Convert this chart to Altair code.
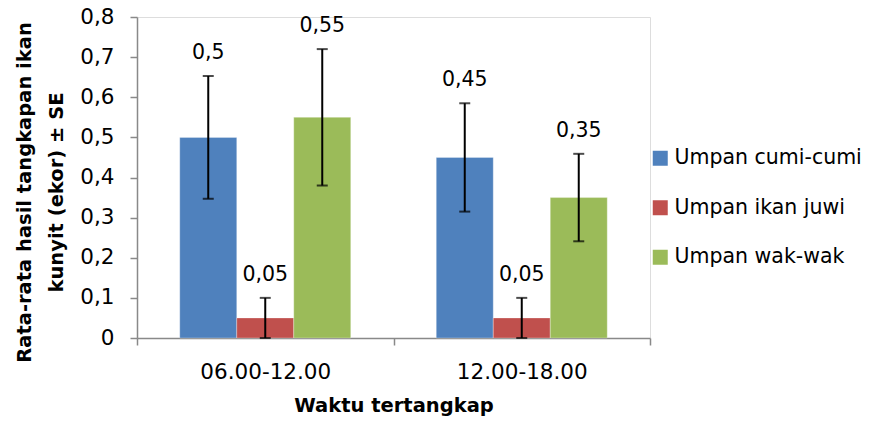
import altair as alt
import pandas as pd

periods = ["06.00-12.00", "12.00-18.00"]
baits = ["Umpan cumi-cumi", "Umpan ikan juwi", "Umpan wak-wak"]
mean_0612 = [0.5, 0.05, 0.55]
mean_1218 = [0.45, 0.05, 0.35]
se_0612 = [0.153, 0.05, 0.17]
se_1218 = [0.135, 0.05, 0.109]
colors = ["#4F81BD", "#C0504D", "#9BBB59"]
y_ticks = [0, 0.1, 0.2, 0.3, 0.4, 0.5, 0.6, 0.7, 0.8]

rows = []
for period, means, ses in [(periods[0], mean_0612, se_0612), (periods[1], mean_1218, se_1218)]:
    for bait, m, s in zip(baits, means, ses):
        rows.append({
            "period": period, "bait": bait, "mean": m,
            "lo": max(m - s, 0), "hi": m + s,
            "label": str(m).replace(".", ","),
        })
df = pd.DataFrame(rows)

FONT = "DejaVu Sans"
GRAY = "#898989"

x_enc = alt.X("period:N", sort=periods,
              scale=alt.Scale(paddingInner=0, paddingOuter=0),
              axis=alt.Axis(tickBand="extent", tickSize=7, labelAngle=0, labelPadding=16,
                            labelFontSize=21.5, labelColor="black", labelFont=FONT,
                            domainColor=GRAY, tickColor=GRAY, domainWidth=1.5, tickWidth=1.5,
                            title="Waktu tertangkap", titleFont=FONT, titleFontSize=19.5,
                            titleFontWeight="bold", titleColor="black",
                            titleX=256.5, titleY=73, titleBaseline="alphabetic", titleAlign="center"))
xo_enc = alt.XOffset("bait:N", sort=baits, scale=alt.Scale(paddingInner=0, paddingOuter=0.75))

base = alt.Chart(df).encode(x=x_enc, xOffset=xo_enc)

y_scale = alt.Scale(domain=[0, 0.8], nice=False)

bars = base.mark_bar(stroke="white", strokeWidth=0.6, strokeOpacity=0.5).encode(
    y=alt.Y("mean:Q", scale=y_scale,
            axis=alt.Axis(values=y_ticks, grid=False, tickSize=7, labelPadding=16,
                          labelExpr="datum.value == 0 ? '0' : replace(format(datum.value, '.1f'), '.', ',')",
                          labelFontSize=21.5, labelFont=FONT, labelColor="black",
                          domainColor=GRAY, tickColor=GRAY, domainWidth=1.5, tickWidth=1.5,
                          title=["Rata-rata hasil tangkapan ikan", "kunyit (ekor) ± SE"],
                          titleFont=FONT, titleFontSize=19.5, titleFontWeight="bold",
                          titleColor="black", titleAngle=270, titleX=-122, titleY=175,
                          titleAlign="center", titleBaseline="top", titleLineHeight=32)),
    color=alt.Color("bait:N", sort=baits,
                    scale=alt.Scale(domain=baits, range=colors),
                    legend=alt.Legend(title=None, orient="none", legendX=513, legendY=131,
                                      symbolType="square", symbolSize=225, symbolStrokeWidth=0,
                                      labelFontSize=20.5, labelFont=FONT, labelColor="black",
                                      labelLimit=0, rowPadding=28.5, labelOffset=4)),
)

rules = base.mark_rule(color="black", strokeWidth=2).encode(
    y=alt.Y("lo:Q", scale=y_scale), y2="hi:Q")
caps_hi = base.mark_tick(color="black", thickness=2, size=11).encode(y=alt.Y("hi:Q", scale=y_scale))
caps_lo = base.mark_tick(color="black", thickness=2, size=11).encode(y=alt.Y("lo:Q", scale=y_scale))
labels = base.mark_text(dy=-23, fontSize=20.5, font=FONT, color="black", baseline="middle").encode(
    y=alt.Y("hi:Q", scale=y_scale), text="label:N")

chart = alt.layer(bars, rules, caps_hi, caps_lo, labels).properties(
    width=513, height=321, autosize="none",
    padding={"left": 129, "top": 9, "right": 215, "bottom": 78},
).configure_view(stroke=None).configure(background="white")

chart.save("out.html", embed_options={"renderer": "svg", "actions": False})
